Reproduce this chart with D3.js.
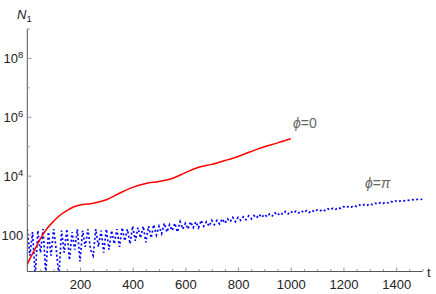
<!DOCTYPE html>
<html>
<head>
<meta charset="utf-8">
<script src="https://cdn.jsdelivr.net/npm/d3@7"></script>
<style>
  body { margin: 0; background: #fff; }
  svg { font-family: "Liberation Sans", Arial, sans-serif; }
  .tick text { fill: #222; font-size: 13px; }
</style>
</head>
<body>
<svg width="436" height="294"></svg>
<script>
// red curve (phi = 0): t and log10 N1
var redT = [0, 10, 25, 50, 75, 100, 125, 150, 175, 200, 250, 300, 350, 400, 450, 500, 550, 600, 650, 700, 750, 800, 850, 900, 950, 1000];
var redExp = [1.0, 1.2, 1.45, 1.88, 2.22, 2.47, 2.68, 2.83, 2.95, 3.02, 3.08, 3.2, 3.42, 3.62, 3.75, 3.82, 3.92, 4.12, 4.3, 4.4, 4.53, 4.67, 4.84, 5.0, 5.13, 5.27];

// blue curve (phi = pi): log10 N1 every 10 time units from 0 to 1500
var blueStep = 10;
var blueExp = [
  2.2, 1.3, 2.1, 0.6, 2.15, 1.4, 2.2, 0.7, 2.1, 1.3, 2.2, 1.5, 0.6, 2.15, 1.4, 2.2,
  1.15, 2.1, 1.5, 2.2, 1.1, 2.15, 1.6, 2.2, 1.5, 1.3, 2.2, 1.6, 2.15, 1.4,
  2.2, 1.5, 2.15, 1.7, 2.2, 1.6, 2.25, 1.8, 2.2, 1.7, 2.3,
  1.8, 2.25, 1.9, 2.3, 1.75, 2.3, 1.9, 2.35, 2.0, 2.3,
  2.05, 2.4, 2.1, 2.35, 2.15, 2.4, 2.1, 2.45, 2.2, 2.4,
  2.2, 2.45, 2.25, 2.45, 2.25, 2.5, 2.3, 2.45, 2.3, 2.5,
  2.35, 2.5, 2.38, 2.55, 2.4, 2.55, 2.45, 2.6, 2.45, 2.6,
  2.5, 2.62, 2.52, 2.65, 2.55, 2.66, 2.58, 2.7, 2.6, 2.7,
  2.62, 2.72, 2.65, 2.75, 2.67, 2.76, 2.7, 2.8, 2.72, 2.8,
  2.74, 2.81, 2.75, 2.82, 2.76, 2.83, 2.77, 2.84, 2.79, 2.85,
  2.81, 2.87, 2.83, 2.89, 2.85, 2.91, 2.87, 2.93, 2.9, 2.96,
  2.93, 2.98, 2.95, 3.0, 2.97, 3.02, 2.99, 3.04, 3.01, 3.06,
  3.03, 3.08, 3.05, 3.1, 3.07, 3.12, 3.09, 3.14, 3.11, 3.16,
  3.14, 3.17, 3.16, 3.19, 3.18, 3.2, 3.19, 3.21, 3.2, 3.22
];

var xMajor = [200, 400, 600, 800, 1000, 1200, 1400];
var yMajor = [1e2, 1e4, 1e6, 1e8];
var yMinor = [1e3, 1e5, 1e7, 1e9];
var yLabels = ["100", "10^4", "10^6", "10^8"];

var svg = d3.select("svg");

var x = d3.scaleLinear().domain([0, 1500]).range([27.3, 422.5]);
var y = d3.scaleLog().domain([Math.pow(10, 0.76), Math.pow(10, 9)]).range([271.5, 29]);

var red = redT.map(function(t, i) { return { t: t, v: Math.pow(10, redExp[i]) }; });
var blue = blueExp.map(function(e, i) { return { t: i * blueStep, v: Math.pow(10, e) }; });

svg.append("clipPath").attr("id", "plot")
  .append("rect")
    .attr("x", x(0)).attr("y", y.range()[1])
    .attr("width", x(1500) - x(0)).attr("height", y.range()[0] - y.range()[1]);

var line = d3.line()
  .x(function(d) { return x(d.t); })
  .y(function(d) { return y(d.v); });

svg.append("path")
  .datum(blue)
  .attr("clip-path", "url(#plot)")
  .attr("fill", "none")
  .attr("stroke", "#0000ff")
  .attr("stroke-width", 1.7)
  .attr("stroke-dasharray", "2,2.4")
  .attr("d", line);

svg.append("path")
  .datum(red)
  .attr("clip-path", "url(#plot)")
  .attr("fill", "none")
  .attr("stroke", "#ff0000")
  .attr("stroke-width", 1.5)
  .attr("d", line.curve(d3.curveMonotoneX));

// x axis, ticks pointing inward
var xAxis = svg.append("g")
  .attr("transform", "translate(0," + y.range()[0] + ")")
  .call(d3.axisBottom(x).tickValues(d3.range(50, 1501, 50)).tickSize(0).tickFormat(""));
xAxis.select(".domain").remove();
xAxis.append("line")
  .attr("x1", x(0)).attr("x2", x(1500))
  .attr("stroke", "#555").attr("stroke-width", 1);
xAxis.selectAll(".tick line")
  .attr("stroke", "#999")
  .attr("y2", function(d) { return xMajor.indexOf(d) >= 0 ? -4 : -2.5; });
xAxis.selectAll(".tick")
  .filter(function(d) { return xMajor.indexOf(d) >= 0; })
  .select("text")
    .attr("y", 17).attr("dy", 0)
    .text(function(d) { return d; });

// y axis
var yAxis = svg.append("g")
  .attr("transform", "translate(" + x(0) + ",0)");
yAxis.append("line")
  .attr("y1", y.range()[0]).attr("y2", y.range()[1])
  .attr("stroke", "#555").attr("stroke-width", 1);
yAxis.selectAll(".major")
  .data(yMajor)
  .enter().append("line")
    .attr("x1", 0).attr("x2", 4)
    .attr("y1", function(d) { return y(d); }).attr("y2", function(d) { return y(d); })
    .attr("stroke", "#999");
yAxis.selectAll(".minor")
  .data(yMinor)
  .enter().append("line")
    .attr("x1", 0).attr("x2", 2.5)
    .attr("y1", function(d) { return y(d); }).attr("y2", function(d) { return y(d); })
    .attr("stroke", "#999");

var lab = yAxis.selectAll(".lab")
  .data(yMajor)
  .enter().append("text")
    .attr("x", -4)
    .attr("y", function(d) { return y(d) + 5; })
    .attr("text-anchor", "end")
    .attr("fill", "#222")
    .style("font-size", "13px");
lab.each(function(d, i) {
  var s = yLabels[i].split("^");
  var t = d3.select(this);
  t.append("tspan").text(s[0]);
  if (s[1]) t.append("tspan").attr("dy", -5).style("font-size", "9.5px").text(s[1]);
});

// axis labels
var nl = svg.append("text")
  .attr("x", 17).attr("y", 19)
  .attr("fill", "#222").style("font-size", "13px");
nl.append("tspan").style("font-style", "italic").text("N");
nl.append("tspan").attr("dy", 3).style("font-size", "9.5px").text("1");

svg.append("text")
  .attr("x", 427).attr("y", 277)
  .attr("fill", "#222").style("font-size", "13px")
  .text("t");

function phiLabel(px, py, rest) {
  var t = svg.append("text")
    .attr("x", px).attr("y", py)
    .attr("fill", "#666").style("font-size", "14px");
  t.append("tspan").style("font-style", "italic").text("\u03d5");
  t.append("tspan").text("=");
  t.append("tspan").style("font-style", rest === "\u03c0" ? "italic" : "normal").text(rest);
}
phiLabel(293, 128, "0");
phiLabel(365, 188, "\u03c0");
</script>
</body>
</html>
